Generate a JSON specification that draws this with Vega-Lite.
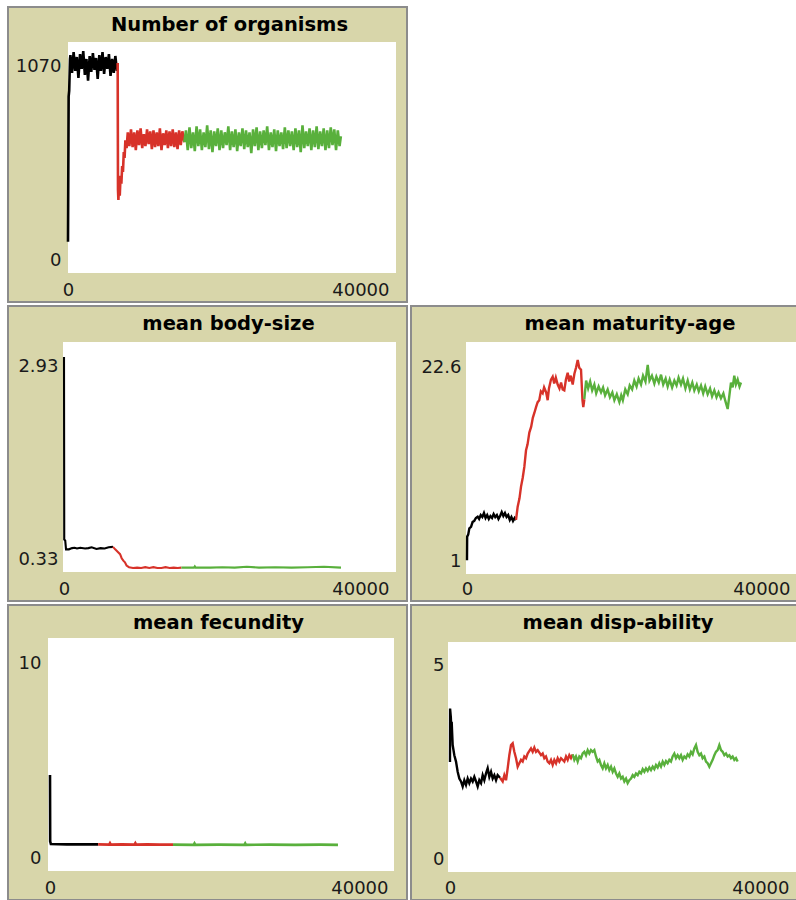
{
  "$schema": "https://vega.github.io/schema/vega-lite/v6.json",
  "background": "white",
  "padding": {"left": 7, "top": 6, "right": 0, "bottom": 0},
  "config": {
    "view": {"fill": "#d8d6aa", "stroke": "#8c8c8c", "strokeWidth": 2},
    "axis": {"labelFont": "DejaVu Sans", "labelFontSize": 18, "labelColor": "#1a1a1a", "domain": false, "ticks": false, "tickSize": 0, "grid": false, "labelFlush": false, "labelOverlap": false, "labelPadding": 2},
    "title": {"font": "DejaVu Sans", "fontSize": 19.5, "fontWeight": "bold", "color": "#000000", "anchor": "middle", "frame": "group", "offset": -28},
    "line": {"strokeWidth": 2.1}
  },
  "datasets": {
    "org": [
      {"t": 0, "v": 138, "p": "a"}, {"t": 80, "v": 870, "p": "a"}, {"t": 150, "v": 900, "p": "a"}, {"t": 250, "v": 1060, "p": "a"},
      {"t": 300, "v": 1080, "p": "a"}, {"t": 500, "v": 990, "p": "a"}, {"t": 700, "v": 1095, "p": "a"}, {"t": 900, "v": 1000, "p": "a"},
      {"t": 1100, "v": 1070, "p": "a"}, {"t": 1300, "v": 965, "p": "a"}, {"t": 1500, "v": 1085, "p": "a"}, {"t": 1700, "v": 1010, "p": "a"},
      {"t": 1900, "v": 1100, "p": "a"}, {"t": 2100, "v": 980, "p": "a"}, {"t": 2300, "v": 1060, "p": "a"}, {"t": 2500, "v": 950, "p": "a"},
      {"t": 2700, "v": 1075, "p": "a"}, {"t": 2900, "v": 995, "p": "a"}, {"t": 3100, "v": 1090, "p": "a"}, {"t": 3300, "v": 1005, "p": "a"},
      {"t": 3500, "v": 1065, "p": "a"}, {"t": 3700, "v": 960, "p": "a"}, {"t": 3900, "v": 1080, "p": "a"}, {"t": 4100, "v": 1000, "p": "a"},
      {"t": 4300, "v": 1095, "p": "a"}, {"t": 4500, "v": 985, "p": "a"}, {"t": 4700, "v": 1070, "p": "a"}, {"t": 4900, "v": 1010, "p": "a"},
      {"t": 5100, "v": 1085, "p": "a"}, {"t": 5300, "v": 975, "p": "a"}, {"t": 5500, "v": 1060, "p": "a"}, {"t": 5700, "v": 990, "p": "a"},
      {"t": 5900, "v": 1075, "p": "a"}, {"t": 6100, "v": 1000, "p": "a"}, {"t": 6190, "v": 1040, "p": "a"},
      {"t": 6190, "v": 1040, "p": "b"}, {"t": 6230, "v": 400, "p": "b"}, {"t": 6280, "v": 348, "p": "b"}, {"t": 6350, "v": 420, "p": "b"},
      {"t": 6450, "v": 370, "p": "b"}, {"t": 6550, "v": 470, "p": "b"}, {"t": 6650, "v": 430, "p": "b"}, {"t": 6750, "v": 520, "p": "b"},
      {"t": 6850, "v": 490, "p": "b"}, {"t": 6950, "v": 590, "p": "b"}, {"t": 7050, "v": 560, "p": "b"}, {"t": 7150, "v": 650, "p": "b"},
      {"t": 7300, "v": 610, "p": "b"}, {"t": 7450, "v": 690, "p": "b"}, {"t": 7650, "v": 620, "p": "b"}, {"t": 7850, "v": 705, "p": "b"},
      {"t": 8050, "v": 615, "p": "b"}, {"t": 8250, "v": 690, "p": "b"}, {"t": 8450, "v": 600, "p": "b"}, {"t": 8650, "v": 700, "p": "b"},
      {"t": 8850, "v": 625, "p": "b"}, {"t": 9050, "v": 710, "p": "b"}, {"t": 9250, "v": 610, "p": "b"}, {"t": 9450, "v": 680, "p": "b"},
      {"t": 9650, "v": 620, "p": "b"}, {"t": 9850, "v": 705, "p": "b"}, {"t": 10050, "v": 630, "p": "b"}, {"t": 10250, "v": 695, "p": "b"},
      {"t": 10450, "v": 605, "p": "b"}, {"t": 10650, "v": 700, "p": "b"}, {"t": 10850, "v": 615, "p": "b"}, {"t": 11050, "v": 690, "p": "b"},
      {"t": 11250, "v": 620, "p": "b"}, {"t": 11450, "v": 710, "p": "b"}, {"t": 11650, "v": 600, "p": "b"}, {"t": 11850, "v": 685, "p": "b"},
      {"t": 12050, "v": 625, "p": "b"}, {"t": 12250, "v": 700, "p": "b"}, {"t": 12450, "v": 610, "p": "b"}, {"t": 12650, "v": 695, "p": "b"},
      {"t": 12850, "v": 620, "p": "b"}, {"t": 13050, "v": 705, "p": "b"}, {"t": 13250, "v": 615, "p": "b"}, {"t": 13450, "v": 690, "p": "b"},
      {"t": 13650, "v": 605, "p": "b"}, {"t": 13850, "v": 700, "p": "b"}, {"t": 14050, "v": 625, "p": "b"}, {"t": 14250, "v": 695, "p": "b"},
      {"t": 14500, "v": 640, "p": "b"},
      {"t": 14500, "v": 640, "p": "c"}, {"t": 14700, "v": 700, "p": "c"}, {"t": 14920, "v": 600, "p": "c"}, {"t": 15140, "v": 715, "p": "c"},
      {"t": 15360, "v": 610, "p": "c"}, {"t": 15580, "v": 690, "p": "c"}, {"t": 15800, "v": 595, "p": "c"}, {"t": 16020, "v": 720, "p": "c"},
      {"t": 16240, "v": 620, "p": "c"}, {"t": 16460, "v": 705, "p": "c"}, {"t": 16680, "v": 600, "p": "c"}, {"t": 16900, "v": 690, "p": "c"},
      {"t": 17120, "v": 615, "p": "c"}, {"t": 17340, "v": 725, "p": "c"}, {"t": 17560, "v": 605, "p": "c"}, {"t": 17780, "v": 700, "p": "c"},
      {"t": 18000, "v": 590, "p": "c"}, {"t": 18220, "v": 695, "p": "c"}, {"t": 18440, "v": 620, "p": "c"}, {"t": 18660, "v": 710, "p": "c"},
      {"t": 18880, "v": 600, "p": "c"}, {"t": 19100, "v": 700, "p": "c"}, {"t": 19320, "v": 610, "p": "c"}, {"t": 19540, "v": 690, "p": "c"},
      {"t": 19760, "v": 625, "p": "c"}, {"t": 19980, "v": 720, "p": "c"}, {"t": 20200, "v": 600, "p": "c"}, {"t": 20420, "v": 695, "p": "c"},
      {"t": 20640, "v": 615, "p": "c"}, {"t": 20860, "v": 705, "p": "c"}, {"t": 21080, "v": 595, "p": "c"}, {"t": 21300, "v": 690, "p": "c"},
      {"t": 21520, "v": 620, "p": "c"}, {"t": 21740, "v": 710, "p": "c"}, {"t": 21960, "v": 605, "p": "c"}, {"t": 22180, "v": 700, "p": "c"},
      {"t": 22400, "v": 615, "p": "c"}, {"t": 22620, "v": 690, "p": "c"}, {"t": 22840, "v": 585, "p": "c"}, {"t": 23060, "v": 705, "p": "c"},
      {"t": 23280, "v": 620, "p": "c"}, {"t": 23500, "v": 715, "p": "c"}, {"t": 23720, "v": 600, "p": "c"}, {"t": 23940, "v": 695, "p": "c"},
      {"t": 24160, "v": 610, "p": "c"}, {"t": 24380, "v": 700, "p": "c"}, {"t": 24600, "v": 625, "p": "c"}, {"t": 24820, "v": 720, "p": "c"},
      {"t": 25040, "v": 600, "p": "c"}, {"t": 25260, "v": 690, "p": "c"}, {"t": 25480, "v": 615, "p": "c"}, {"t": 25700, "v": 705, "p": "c"},
      {"t": 25920, "v": 595, "p": "c"}, {"t": 26140, "v": 700, "p": "c"}, {"t": 26360, "v": 620, "p": "c"}, {"t": 26580, "v": 690, "p": "c"},
      {"t": 26800, "v": 605, "p": "c"}, {"t": 27020, "v": 715, "p": "c"}, {"t": 27240, "v": 610, "p": "c"}, {"t": 27460, "v": 700, "p": "c"},
      {"t": 27680, "v": 620, "p": "c"}, {"t": 27900, "v": 695, "p": "c"}, {"t": 28120, "v": 600, "p": "c"}, {"t": 28340, "v": 710, "p": "c"},
      {"t": 28560, "v": 615, "p": "c"}, {"t": 28780, "v": 700, "p": "c"}, {"t": 29000, "v": 590, "p": "c"}, {"t": 29220, "v": 725, "p": "c"},
      {"t": 29440, "v": 610, "p": "c"}, {"t": 29660, "v": 695, "p": "c"}, {"t": 29880, "v": 620, "p": "c"}, {"t": 30100, "v": 710, "p": "c"},
      {"t": 30320, "v": 600, "p": "c"}, {"t": 30540, "v": 700, "p": "c"}, {"t": 30760, "v": 615, "p": "c"}, {"t": 30980, "v": 720, "p": "c"},
      {"t": 31200, "v": 605, "p": "c"}, {"t": 31420, "v": 695, "p": "c"}, {"t": 31640, "v": 620, "p": "c"}, {"t": 31860, "v": 710, "p": "c"},
      {"t": 32080, "v": 600, "p": "c"}, {"t": 32300, "v": 700, "p": "c"}, {"t": 32520, "v": 610, "p": "c"}, {"t": 32740, "v": 715, "p": "c"},
      {"t": 32960, "v": 625, "p": "c"}, {"t": 33180, "v": 705, "p": "c"}, {"t": 33400, "v": 600, "p": "c"}, {"t": 33620, "v": 700, "p": "c"},
      {"t": 33840, "v": 620, "p": "c"}, {"t": 34000, "v": 670, "p": "c"}
    ],
    "body": [
      {"t": 0, "v": 2.93, "p": "a"}, {"t": 30, "v": 0.68, "p": "a"}, {"t": 150, "v": 0.67, "p": "a"}, {"t": 250, "v": 0.56, "p": "a"},
      {"t": 600, "v": 0.56, "p": "a"}, {"t": 1000, "v": 0.575, "p": "a"}, {"t": 1300, "v": 0.58, "p": "a"}, {"t": 1600, "v": 0.57, "p": "a"},
      {"t": 2000, "v": 0.58, "p": "a"}, {"t": 2600, "v": 0.57, "p": "a"}, {"t": 3000, "v": 0.575, "p": "a"}, {"t": 3400, "v": 0.585, "p": "a"},
      {"t": 4000, "v": 0.565, "p": "a"}, {"t": 4500, "v": 0.575, "p": "a"}, {"t": 5000, "v": 0.57, "p": "a"}, {"t": 5500, "v": 0.585, "p": "a"},
      {"t": 6030, "v": 0.59, "p": "a"},
      {"t": 6030, "v": 0.59, "p": "b"}, {"t": 6300, "v": 0.56, "p": "b"}, {"t": 6600, "v": 0.53, "p": "b"}, {"t": 6900, "v": 0.5, "p": "b"},
      {"t": 7100, "v": 0.45, "p": "b"}, {"t": 7300, "v": 0.42, "p": "b"}, {"t": 7500, "v": 0.4, "p": "b"}, {"t": 7700, "v": 0.36, "p": "b"},
      {"t": 8000, "v": 0.34, "p": "b"}, {"t": 8500, "v": 0.33, "p": "b"}, {"t": 9000, "v": 0.335, "p": "b"}, {"t": 9500, "v": 0.33, "p": "b"},
      {"t": 10000, "v": 0.34, "p": "b"}, {"t": 10500, "v": 0.33, "p": "b"}, {"t": 11000, "v": 0.34, "p": "b"}, {"t": 11500, "v": 0.33, "p": "b"},
      {"t": 12000, "v": 0.33, "p": "b"}, {"t": 12500, "v": 0.34, "p": "b"}, {"t": 13000, "v": 0.33, "p": "b"}, {"t": 13500, "v": 0.335, "p": "b"},
      {"t": 14000, "v": 0.33, "p": "b"}, {"t": 14450, "v": 0.335, "p": "b"},
      {"t": 14450, "v": 0.335, "p": "c"}, {"t": 16000, "v": 0.335, "p": "c"}, {"t": 16100, "v": 0.35, "p": "c"}, {"t": 16200, "v": 0.335, "p": "c"},
      {"t": 18000, "v": 0.335, "p": "c"}, {"t": 19500, "v": 0.34, "p": "c"}, {"t": 21000, "v": 0.335, "p": "c"}, {"t": 22500, "v": 0.345, "p": "c"},
      {"t": 24000, "v": 0.335, "p": "c"}, {"t": 26000, "v": 0.34, "p": "c"}, {"t": 28000, "v": 0.335, "p": "c"}, {"t": 30000, "v": 0.34, "p": "c"},
      {"t": 32000, "v": 0.345, "p": "c"}, {"t": 34090, "v": 0.335, "p": "c"}
    ],
    "mat": [
      {"t": 0, "v": 2.0, "p": "a"}, {"t": 20, "v": 4.4, "p": "a"}, {"t": 150, "v": 4.6, "p": "a"}, {"t": 290, "v": 5.25, "p": "a"},
      {"t": 500, "v": 5.4, "p": "a"}, {"t": 700, "v": 5.9, "p": "a"}, {"t": 900, "v": 6.0, "p": "a"}, {"t": 1100, "v": 6.3, "p": "a"},
      {"t": 1320, "v": 6.43, "p": "a"}, {"t": 1500, "v": 6.2, "p": "a"}, {"t": 1700, "v": 6.6, "p": "a"}, {"t": 1900, "v": 6.4, "p": "a"},
      {"t": 2100, "v": 6.8, "p": "a"}, {"t": 2300, "v": 6.3, "p": "a"}, {"t": 2500, "v": 6.6, "p": "a"}, {"t": 2700, "v": 6.2, "p": "a"},
      {"t": 2900, "v": 6.5, "p": "a"}, {"t": 3100, "v": 6.3, "p": "a"}, {"t": 3300, "v": 6.7, "p": "a"}, {"t": 3500, "v": 6.4, "p": "a"},
      {"t": 3700, "v": 6.6, "p": "a"}, {"t": 3900, "v": 6.2, "p": "a"}, {"t": 4100, "v": 6.5, "p": "a"}, {"t": 4300, "v": 6.9, "p": "a"},
      {"t": 4500, "v": 6.5, "p": "a"}, {"t": 4700, "v": 6.8, "p": "a"}, {"t": 4900, "v": 6.4, "p": "a"}, {"t": 5100, "v": 6.6, "p": "a"},
      {"t": 5300, "v": 6.1, "p": "a"}, {"t": 5500, "v": 6.4, "p": "a"}, {"t": 5700, "v": 6.0, "p": "a"}, {"t": 5900, "v": 6.3, "p": "a"},
      {"t": 6070, "v": 6.1, "p": "a"},
      {"t": 6070, "v": 6.1, "p": "b"}, {"t": 6275, "v": 7.45, "p": "b"}, {"t": 6500, "v": 8.3, "p": "b"}, {"t": 6690, "v": 9.5, "p": "b"},
      {"t": 6900, "v": 10.4, "p": "b"}, {"t": 7100, "v": 11.5, "p": "b"}, {"t": 7310, "v": 13.2, "p": "b"}, {"t": 7500, "v": 13.8, "p": "b"},
      {"t": 7720, "v": 15.0, "p": "b"}, {"t": 7950, "v": 15.6, "p": "b"}, {"t": 8150, "v": 16.5, "p": "b"}, {"t": 8340, "v": 17.0, "p": "b"},
      {"t": 8550, "v": 17.6, "p": "b"}, {"t": 8750, "v": 18.1, "p": "b"}, {"t": 8950, "v": 18.3, "p": "b"}, {"t": 9150, "v": 19.2, "p": "b"},
      {"t": 9370, "v": 19.0, "p": "b"}, {"t": 9550, "v": 19.6, "p": "b"}, {"t": 9800, "v": 19.1, "p": "b"}, {"t": 9990, "v": 18.3, "p": "b"},
      {"t": 10150, "v": 19.5, "p": "b"}, {"t": 10400, "v": 20.4, "p": "b"}, {"t": 10610, "v": 20.7, "p": "b"}, {"t": 10800, "v": 20.0, "p": "b"},
      {"t": 11000, "v": 20.6, "p": "b"}, {"t": 11230, "v": 19.9, "p": "b"}, {"t": 11450, "v": 19.5, "p": "b"}, {"t": 11650, "v": 20.1, "p": "b"},
      {"t": 11850, "v": 19.4, "p": "b"}, {"t": 12050, "v": 19.3, "p": "b"}, {"t": 12250, "v": 20.4, "p": "b"}, {"t": 12470, "v": 21.1, "p": "b"},
      {"t": 12650, "v": 20.2, "p": "b"}, {"t": 12850, "v": 20.8, "p": "b"}, {"t": 13090, "v": 19.9, "p": "b"}, {"t": 13300, "v": 21.0, "p": "b"},
      {"t": 13500, "v": 21.6, "p": "b"}, {"t": 13710, "v": 22.4, "p": "b"}, {"t": 13900, "v": 21.6, "p": "b"}, {"t": 14120, "v": 21.4, "p": "b"},
      {"t": 14300, "v": 18.3, "p": "b"}, {"t": 14400, "v": 17.6, "p": "b"}, {"t": 14530, "v": 18.4, "p": "b"},
      {"t": 14530, "v": 18.4, "p": "c"}, {"t": 14750, "v": 20.3, "p": "c"}, {"t": 15000, "v": 19.5, "p": "c"}, {"t": 15250, "v": 20.2, "p": "c"},
      {"t": 15500, "v": 19.3, "p": "c"}, {"t": 15770, "v": 19.9, "p": "c"}, {"t": 16000, "v": 19.0, "p": "c"}, {"t": 16300, "v": 19.7, "p": "c"},
      {"t": 16600, "v": 19.1, "p": "c"}, {"t": 16850, "v": 19.6, "p": "c"}, {"t": 17100, "v": 18.8, "p": "c"}, {"t": 17420, "v": 19.4, "p": "c"},
      {"t": 17700, "v": 18.6, "p": "c"}, {"t": 18000, "v": 19.1, "p": "c"}, {"t": 18250, "v": 18.3, "p": "c"}, {"t": 18550, "v": 18.9, "p": "c"},
      {"t": 18870, "v": 18.1, "p": "c"}, {"t": 19100, "v": 18.8, "p": "c"}, {"t": 19300, "v": 18.3, "p": "c"}, {"t": 19600, "v": 19.4, "p": "c"},
      {"t": 19900, "v": 18.9, "p": "c"}, {"t": 20150, "v": 19.8, "p": "c"}, {"t": 20450, "v": 19.4, "p": "c"}, {"t": 20720, "v": 20.3, "p": "c"},
      {"t": 21000, "v": 19.7, "p": "c"}, {"t": 21250, "v": 20.5, "p": "c"}, {"t": 21550, "v": 19.9, "p": "c"}, {"t": 21800, "v": 20.8, "p": "c"},
      {"t": 22100, "v": 20.2, "p": "c"}, {"t": 22380, "v": 21.9, "p": "c"}, {"t": 22600, "v": 20.3, "p": "c"}, {"t": 22900, "v": 20.8, "p": "c"},
      {"t": 23200, "v": 20.0, "p": "c"}, {"t": 23450, "v": 20.7, "p": "c"}, {"t": 23750, "v": 20.1, "p": "c"}, {"t": 24030, "v": 20.9, "p": "c"},
      {"t": 24300, "v": 19.9, "p": "c"}, {"t": 24600, "v": 20.5, "p": "c"}, {"t": 24850, "v": 19.7, "p": "c"}, {"t": 25100, "v": 20.4, "p": "c"},
      {"t": 25400, "v": 19.6, "p": "c"}, {"t": 25680, "v": 20.3, "p": "c"}, {"t": 25950, "v": 19.8, "p": "c"}, {"t": 26200, "v": 20.6, "p": "c"},
      {"t": 26500, "v": 19.9, "p": "c"}, {"t": 26750, "v": 20.5, "p": "c"}, {"t": 27050, "v": 19.5, "p": "c"}, {"t": 27330, "v": 20.3, "p": "c"},
      {"t": 27600, "v": 19.4, "p": "c"}, {"t": 27900, "v": 20.1, "p": "c"}, {"t": 28150, "v": 19.3, "p": "c"}, {"t": 28450, "v": 19.9, "p": "c"},
      {"t": 28700, "v": 19.2, "p": "c"}, {"t": 28980, "v": 19.8, "p": "c"}, {"t": 29250, "v": 19.0, "p": "c"}, {"t": 29500, "v": 19.7, "p": "c"},
      {"t": 29800, "v": 18.9, "p": "c"}, {"t": 30100, "v": 19.5, "p": "c"}, {"t": 30350, "v": 18.7, "p": "c"}, {"t": 30630, "v": 19.3, "p": "c"},
      {"t": 30900, "v": 18.6, "p": "c"}, {"t": 31150, "v": 19.1, "p": "c"}, {"t": 31450, "v": 18.5, "p": "c"}, {"t": 31750, "v": 19.0, "p": "c"},
      {"t": 32000, "v": 18.2, "p": "c"}, {"t": 32280, "v": 17.4, "p": "c"}, {"t": 32450, "v": 18.5, "p": "c"}, {"t": 32690, "v": 20.1, "p": "c"},
      {"t": 32900, "v": 19.6, "p": "c"}, {"t": 33100, "v": 20.8, "p": "c"}, {"t": 33300, "v": 19.9, "p": "c"}, {"t": 33520, "v": 20.4, "p": "c"},
      {"t": 33750, "v": 19.7, "p": "c"}, {"t": 33930, "v": 20.1, "p": "c"}
    ],
    "fec": [
      {"t": 0, "v": 4.32, "p": "a"}, {"t": 20, "v": 1.2, "p": "a"}, {"t": 100, "v": 1.08, "p": "a"}, {"t": 1000, "v": 1.07, "p": "a"},
      {"t": 2000, "v": 1.06, "p": "a"}, {"t": 3000, "v": 1.06, "p": "a"}, {"t": 4000, "v": 1.06, "p": "a"}, {"t": 5000, "v": 1.06, "p": "a"},
      {"t": 5700, "v": 1.06, "p": "a"},
      {"t": 5700, "v": 1.06, "p": "b"}, {"t": 7000, "v": 1.05, "p": "b"}, {"t": 7100, "v": 1.12, "p": "b"}, {"t": 7200, "v": 1.05, "p": "b"},
      {"t": 8500, "v": 1.06, "p": "b"}, {"t": 10000, "v": 1.05, "p": "b"}, {"t": 10100, "v": 1.12, "p": "b"}, {"t": 10200, "v": 1.05, "p": "b"},
      {"t": 11500, "v": 1.06, "p": "b"}, {"t": 13000, "v": 1.05, "p": "b"}, {"t": 14560, "v": 1.05, "p": "b"},
      {"t": 14560, "v": 1.05, "p": "c"}, {"t": 17000, "v": 1.04, "p": "c"}, {"t": 17100, "v": 1.11, "p": "c"}, {"t": 17200, "v": 1.04, "p": "c"},
      {"t": 20000, "v": 1.05, "p": "c"}, {"t": 23000, "v": 1.04, "p": "c"}, {"t": 23100, "v": 1.11, "p": "c"}, {"t": 23200, "v": 1.04, "p": "c"},
      {"t": 26000, "v": 1.05, "p": "c"}, {"t": 29000, "v": 1.04, "p": "c"}, {"t": 32000, "v": 1.05, "p": "c"}, {"t": 34080, "v": 1.04, "p": "c"}
    ],
    "disp": [
      {"t": 0, "v": 2.5, "p": "a"}, {"t": 10, "v": 3.76, "p": "a"}, {"t": 100, "v": 3.55, "p": "a"}, {"t": 150, "v": 3.3, "p": "a"},
      {"t": 200, "v": 3.45, "p": "a"}, {"t": 250, "v": 3.2, "p": "a"}, {"t": 315, "v": 2.9, "p": "a"}, {"t": 510, "v": 2.66, "p": "a"},
      {"t": 710, "v": 2.51, "p": "a"}, {"t": 905, "v": 2.27, "p": "a"}, {"t": 1100, "v": 2.11, "p": "a"}, {"t": 1300, "v": 2.04, "p": "a"},
      {"t": 1495, "v": 1.92, "p": "a"}, {"t": 1690, "v": 2.07, "p": "a"}, {"t": 1890, "v": 1.96, "p": "a"}, {"t": 2085, "v": 2.11, "p": "a"},
      {"t": 2280, "v": 2.0, "p": "a"}, {"t": 2480, "v": 2.11, "p": "a"}, {"t": 2675, "v": 2.04, "p": "a"}, {"t": 2870, "v": 2.15, "p": "a"},
      {"t": 3070, "v": 2.04, "p": "a"}, {"t": 3265, "v": 1.92, "p": "a"}, {"t": 3460, "v": 2.07, "p": "a"}, {"t": 3660, "v": 2.0, "p": "a"},
      {"t": 3855, "v": 2.19, "p": "a"}, {"t": 4050, "v": 2.07, "p": "a"}, {"t": 4250, "v": 2.23, "p": "a"}, {"t": 4445, "v": 2.35, "p": "a"},
      {"t": 4640, "v": 2.15, "p": "a"}, {"t": 4840, "v": 2.27, "p": "a"}, {"t": 5035, "v": 2.11, "p": "a"}, {"t": 5230, "v": 2.19, "p": "a"},
      {"t": 5430, "v": 2.07, "p": "a"}, {"t": 5625, "v": 2.19, "p": "a"}, {"t": 5900, "v": 2.13, "p": "a"},
      {"t": 5900, "v": 2.13, "p": "b"}, {"t": 6215, "v": 2.04, "p": "b"}, {"t": 6410, "v": 2.19, "p": "b"}, {"t": 6610, "v": 2.07, "p": "b"},
      {"t": 6805, "v": 2.35, "p": "b"}, {"t": 7000, "v": 2.66, "p": "b"}, {"t": 7200, "v": 2.9, "p": "b"}, {"t": 7395, "v": 2.94, "p": "b"},
      {"t": 7590, "v": 2.74, "p": "b"}, {"t": 7790, "v": 2.59, "p": "b"}, {"t": 7985, "v": 2.39, "p": "b"}, {"t": 8180, "v": 2.47, "p": "b"},
      {"t": 8380, "v": 2.55, "p": "b"}, {"t": 8575, "v": 2.51, "p": "b"}, {"t": 8770, "v": 2.63, "p": "b"}, {"t": 8970, "v": 2.59, "p": "b"},
      {"t": 9165, "v": 2.7, "p": "b"}, {"t": 9555, "v": 2.82, "p": "b"}, {"t": 9755, "v": 2.74, "p": "b"}, {"t": 9950, "v": 2.84, "p": "b"},
      {"t": 10150, "v": 2.74, "p": "b"}, {"t": 10345, "v": 2.78, "p": "b"}, {"t": 10740, "v": 2.66, "p": "b"}, {"t": 10935, "v": 2.7, "p": "b"},
      {"t": 11130, "v": 2.59, "p": "b"}, {"t": 11325, "v": 2.63, "p": "b"}, {"t": 11525, "v": 2.51, "p": "b"}, {"t": 11720, "v": 2.47, "p": "b"},
      {"t": 11915, "v": 2.55, "p": "b"}, {"t": 12115, "v": 2.43, "p": "b"}, {"t": 12310, "v": 2.55, "p": "b"}, {"t": 12510, "v": 2.47, "p": "b"},
      {"t": 12705, "v": 2.59, "p": "b"}, {"t": 12900, "v": 2.51, "p": "b"}, {"t": 13100, "v": 2.59, "p": "b"}, {"t": 13490, "v": 2.51, "p": "b"},
      {"t": 13690, "v": 2.63, "p": "b"}, {"t": 13885, "v": 2.55, "p": "b"}, {"t": 14080, "v": 2.66, "p": "b"}, {"t": 14275, "v": 2.59, "p": "b"},
      {"t": 14475, "v": 2.68, "p": "b"},
      {"t": 14475, "v": 2.68, "p": "c"}, {"t": 14670, "v": 2.55, "p": "c"}, {"t": 14865, "v": 2.63, "p": "c"}, {"t": 15065, "v": 2.51, "p": "c"},
      {"t": 15260, "v": 2.63, "p": "c"}, {"t": 15455, "v": 2.59, "p": "c"}, {"t": 15655, "v": 2.7, "p": "c"}, {"t": 15850, "v": 2.74, "p": "c"},
      {"t": 16045, "v": 2.66, "p": "c"}, {"t": 16245, "v": 2.78, "p": "c"}, {"t": 16440, "v": 2.7, "p": "c"}, {"t": 16635, "v": 2.78, "p": "c"},
      {"t": 16835, "v": 2.74, "p": "c"}, {"t": 17030, "v": 2.78, "p": "c"}, {"t": 17225, "v": 2.63, "p": "c"}, {"t": 17425, "v": 2.51, "p": "c"},
      {"t": 17620, "v": 2.55, "p": "c"}, {"t": 17815, "v": 2.43, "p": "c"}, {"t": 18015, "v": 2.35, "p": "c"}, {"t": 18210, "v": 2.47, "p": "c"},
      {"t": 18405, "v": 2.35, "p": "c"}, {"t": 18605, "v": 2.43, "p": "c"}, {"t": 18800, "v": 2.31, "p": "c"}, {"t": 19000, "v": 2.39, "p": "c"},
      {"t": 19195, "v": 2.27, "p": "c"}, {"t": 19390, "v": 2.35, "p": "c"}, {"t": 19590, "v": 2.23, "p": "c"}, {"t": 19785, "v": 2.15, "p": "c"},
      {"t": 19980, "v": 2.23, "p": "c"}, {"t": 20180, "v": 2.11, "p": "c"}, {"t": 20375, "v": 2.15, "p": "c"}, {"t": 20570, "v": 2.04, "p": "c"},
      {"t": 20770, "v": 2.11, "p": "c"}, {"t": 20965, "v": 2.0, "p": "c"}, {"t": 21160, "v": 2.07, "p": "c"}, {"t": 21360, "v": 2.11, "p": "c"},
      {"t": 21555, "v": 2.19, "p": "c"}, {"t": 21750, "v": 2.15, "p": "c"}, {"t": 21945, "v": 2.23, "p": "c"}, {"t": 22145, "v": 2.19, "p": "c"},
      {"t": 22340, "v": 2.27, "p": "c"}, {"t": 22535, "v": 2.23, "p": "c"}, {"t": 22735, "v": 2.33, "p": "c"}, {"t": 22930, "v": 2.27, "p": "c"},
      {"t": 23125, "v": 2.35, "p": "c"}, {"t": 23325, "v": 2.29, "p": "c"}, {"t": 23520, "v": 2.37, "p": "c"}, {"t": 23715, "v": 2.31, "p": "c"},
      {"t": 23915, "v": 2.39, "p": "c"}, {"t": 24110, "v": 2.33, "p": "c"}, {"t": 24305, "v": 2.43, "p": "c"}, {"t": 24505, "v": 2.37, "p": "c"},
      {"t": 24700, "v": 2.47, "p": "c"}, {"t": 24895, "v": 2.39, "p": "c"}, {"t": 25095, "v": 2.51, "p": "c"}, {"t": 25290, "v": 2.43, "p": "c"},
      {"t": 25485, "v": 2.52, "p": "c"}, {"t": 25680, "v": 2.47, "p": "c"}, {"t": 25880, "v": 2.55, "p": "c"}, {"t": 26075, "v": 2.51, "p": "c"},
      {"t": 26270, "v": 2.63, "p": "c"}, {"t": 26470, "v": 2.7, "p": "c"}, {"t": 26665, "v": 2.59, "p": "c"}, {"t": 26860, "v": 2.66, "p": "c"},
      {"t": 27060, "v": 2.59, "p": "c"}, {"t": 27255, "v": 2.66, "p": "c"}, {"t": 27450, "v": 2.55, "p": "c"}, {"t": 27650, "v": 2.63, "p": "c"},
      {"t": 27845, "v": 2.59, "p": "c"}, {"t": 28040, "v": 2.68, "p": "c"}, {"t": 28240, "v": 2.63, "p": "c"}, {"t": 28435, "v": 2.74, "p": "c"},
      {"t": 28630, "v": 2.68, "p": "c"}, {"t": 28830, "v": 2.82, "p": "c"}, {"t": 29025, "v": 2.9, "p": "c"}, {"t": 29220, "v": 2.74, "p": "c"},
      {"t": 29420, "v": 2.66, "p": "c"}, {"t": 29615, "v": 2.7, "p": "c"}, {"t": 29810, "v": 2.59, "p": "c"}, {"t": 30010, "v": 2.63, "p": "c"},
      {"t": 30205, "v": 2.51, "p": "c"}, {"t": 30400, "v": 2.47, "p": "c"}, {"t": 30600, "v": 2.39, "p": "c"}, {"t": 30795, "v": 2.47, "p": "c"},
      {"t": 30990, "v": 2.55, "p": "c"}, {"t": 31190, "v": 2.66, "p": "c"}, {"t": 31385, "v": 2.74, "p": "c"}, {"t": 31580, "v": 2.78, "p": "c"},
      {"t": 31780, "v": 2.9, "p": "c"}, {"t": 31975, "v": 2.78, "p": "c"}, {"t": 32170, "v": 2.74, "p": "c"}, {"t": 32370, "v": 2.66, "p": "c"},
      {"t": 32565, "v": 2.7, "p": "c"}, {"t": 32760, "v": 2.63, "p": "c"}, {"t": 32960, "v": 2.66, "p": "c"}, {"t": 33155, "v": 2.59, "p": "c"},
      {"t": 33350, "v": 2.63, "p": "c"}, {"t": 33550, "v": 2.55, "p": "c"}, {"t": 33745, "v": 2.59, "p": "c"}, {"t": 33940, "v": 2.51, "p": "c"}
    ]
  },
  "columns": 2,
  "spacing": 4,
  "bounds": "flush",
  "concat": [
    {
      "width": 399, "height": 295,
      "title": {"text": "Number of organisms", "dx": 22},
      "layer": [
        {"data": {"values": [{}]}, "mark": {"type": "rect", "color": "white"},
         "encoding": {
           "x": {"datum": 0, "type": "quantitative", "scale": {"domain": [0, 40000], "range": [60, 381], "nice": false, "zero": false},
                 "axis": {"values": [0, 40000], "format": ".12~g", "title": null, "offset": -23, "labelBaseline": "top", "labelAlign": {"condition": {"test": "datum.value == 0", "value": "center"}, "value": "right"}}},
           "x2": {"datum": 40872},
           "y": {"datum": -20, "type": "quantitative", "scale": {"domain": [0, 1070], "range": [262, 50], "nice": false, "zero": false},
                 "axis": {"values": [0, 1070], "format": ".12~g", "title": null, "offset": -55, "labelAlign": "right", "labelBaseline": {"condition": {"test": "datum.value == 0", "value": "bottom"}, "value": "top"}}},
           "y2": {"datum": 1146}
         }},
        {"data": {"name": "org"}, "mark": {"type": "line", "strokeWidth": 2.6},
         "encoding": {
           "x": {"field": "t", "type": "quantitative", "scale": {"domain": [0, 40000], "range": [60, 381], "nice": false, "zero": false},
                 "axis": {"values": [0, 40000], "format": ".12~g", "title": null, "offset": -23, "labelBaseline": "top", "labelAlign": {"condition": {"test": "datum.value == 0", "value": "center"}, "value": "right"}}},
           "y": {"field": "v", "type": "quantitative", "scale": {"domain": [0, 1070], "range": [262, 50], "nice": false, "zero": false},
                 "axis": {"values": [0, 1070], "format": ".12~g", "title": null, "offset": -55, "labelAlign": "right", "labelBaseline": {"condition": {"test": "datum.value == 0", "value": "bottom"}, "value": "top"}}},
           "color": {"field": "p", "type": "nominal", "scale": {"domain": ["a", "b", "c"], "range": ["#000000", "#d73229", "#59b03c"]}, "legend": null}
         }}
      ]
    },
    {
      "width": 396, "height": 295,
      "data": {"values": []},
      "mark": "point",
      "view": {"fill": "white", "stroke": "white", "strokeWidth": 0}
    },
    {
      "width": 399, "height": 295,
      "title": {"text": "mean body-size", "dx": 21},
      "layer": [
        {"data": {"values": [{}]}, "mark": {"type": "rect", "color": "white"},
         "encoding": {
           "x": {"datum": -123, "type": "quantitative", "scale": {"domain": [0, 40000], "range": [56, 381], "nice": false, "zero": false},
                 "axis": {"values": [0, 40000], "format": ".12~g", "title": null, "offset": -23, "labelBaseline": "top", "labelAlign": {"condition": {"test": "datum.value == 0", "value": "center"}, "value": "right"}}},
           "x2": {"datum": 40862},
           "y": {"datum": 0.281, "type": "quantitative", "scale": {"domain": [0.33, 2.93], "range": [262, 51], "nice": false, "zero": false},
                 "axis": {"values": [0.33, 2.93], "format": ".12~g", "title": null, "offset": -52, "labelAlign": "right", "labelBaseline": {"condition": {"test": "datum.value < 1", "value": "bottom"}, "value": "top"}}},
           "y2": {"datum": 3.115}
         }},
        {"data": {"name": "body"}, "mark": {"type": "line"},
         "encoding": {
           "x": {"field": "t", "type": "quantitative", "scale": {"domain": [0, 40000], "range": [56, 381], "nice": false, "zero": false},
                 "axis": {"values": [0, 40000], "format": ".12~g", "title": null, "offset": -23, "labelBaseline": "top", "labelAlign": {"condition": {"test": "datum.value == 0", "value": "center"}, "value": "right"}}},
           "y": {"field": "v", "type": "quantitative", "scale": {"domain": [0.33, 2.93], "range": [262, 51], "nice": false, "zero": false},
                 "axis": {"values": [0.33, 2.93], "format": ".12~g", "title": null, "offset": -52, "labelAlign": "right", "labelBaseline": {"condition": {"test": "datum.value < 1", "value": "bottom"}, "value": "top"}}},
           "color": {"field": "p", "type": "nominal", "scale": {"domain": ["a", "b", "c"], "range": ["#000000", "#d73229", "#59b03c"]}, "legend": null}
         }}
      ]
    },
    {
      "width": 396, "height": 295,
      "title": {"text": "mean maturity-age", "dx": 21},
      "layer": [
        {"data": {"values": [{}]}, "mark": {"type": "rect", "color": "white"},
         "encoding": {
           "x": {"datum": -124, "type": "quantitative", "scale": {"domain": [0, 40000], "range": [56, 379], "nice": false, "zero": false},
                 "axis": {"values": [0, 40000], "format": ".12~g", "title": null, "offset": -23, "labelBaseline": "top", "labelAlign": {"condition": {"test": "datum.value == 0", "value": "center"}, "value": "right"}}},
           "x2": {"datum": 40743},
           "y": {"datum": 0.59, "type": "quantitative", "scale": {"domain": [1, 22.6], "range": [264, 52], "nice": false, "zero": false},
                 "axis": {"values": [1, 22.6], "format": ".12~g", "title": null, "offset": -52, "labelAlign": "right", "labelBaseline": {"condition": {"test": "datum.value < 2", "value": "bottom"}, "value": "top"}}},
           "y2": {"datum": 24.23}
         }},
        {"data": {"name": "mat"}, "mark": {"type": "line", "strokeWidth": 2.4},
         "encoding": {
           "x": {"field": "t", "type": "quantitative", "scale": {"domain": [0, 40000], "range": [56, 379], "nice": false, "zero": false},
                 "axis": {"values": [0, 40000], "format": ".12~g", "title": null, "offset": -23, "labelBaseline": "top", "labelAlign": {"condition": {"test": "datum.value == 0", "value": "center"}, "value": "right"}}},
           "y": {"field": "v", "type": "quantitative", "scale": {"domain": [1, 22.6], "range": [264, 52], "nice": false, "zero": false},
                 "axis": {"values": [1, 22.6], "format": ".12~g", "title": null, "offset": -52, "labelAlign": "right", "labelBaseline": {"condition": {"test": "datum.value < 2", "value": "bottom"}, "value": "top"}}},
           "color": {"field": "p", "type": "nominal", "scale": {"domain": ["a", "b", "c"], "range": ["#000000", "#d73229", "#59b03c"]}, "legend": null}
         }}
      ]
    },
    {
      "width": 399, "height": 295,
      "title": {"text": "mean fecundity", "dx": 11},
      "layer": [
        {"data": {"values": [{}]}, "mark": {"type": "rect", "color": "white"},
         "encoding": {
           "x": {"datum": -237, "type": "quantitative", "scale": {"domain": [0, 40000], "range": [42, 380], "nice": false, "zero": false},
                 "axis": {"values": [0, 40000], "format": ".12~g", "title": null, "offset": -23, "labelBaseline": "top", "labelAlign": {"condition": {"test": "datum.value == 0", "value": "center"}, "value": "right"}}},
           "x2": {"datum": 40710},
           "y": {"datum": -0.19, "type": "quantitative", "scale": {"domain": [0, 10], "range": [262, 49], "nice": false, "zero": false},
                 "axis": {"values": [0, 10], "format": ".12~g", "title": null, "offset": -35, "labelAlign": "right", "labelBaseline": {"condition": {"test": "datum.value == 0", "value": "bottom"}, "value": "top"}}},
           "y2": {"datum": 10.75}
         }},
        {"data": {"name": "fec"}, "mark": {"type": "line", "strokeWidth": 2.6},
         "encoding": {
           "x": {"field": "t", "type": "quantitative", "scale": {"domain": [0, 40000], "range": [42, 380], "nice": false, "zero": false},
                 "axis": {"values": [0, 40000], "format": ".12~g", "title": null, "offset": -23, "labelBaseline": "top", "labelAlign": {"condition": {"test": "datum.value == 0", "value": "center"}, "value": "right"}}},
           "y": {"field": "v", "type": "quantitative", "scale": {"domain": [0, 10], "range": [262, 49], "nice": false, "zero": false},
                 "axis": {"values": [0, 10], "format": ".12~g", "title": null, "offset": -35, "labelAlign": "right", "labelBaseline": {"condition": {"test": "datum.value == 0", "value": "bottom"}, "value": "top"}}},
           "color": {"field": "p", "type": "nominal", "scale": {"domain": ["a", "b", "c"], "range": ["#000000", "#d73229", "#59b03c"]}, "legend": null}
         }}
      ]
    },
    {
      "width": 396, "height": 295,
      "title": {"text": "mean disp-ability", "dx": 9},
      "layer": [
        {"data": {"values": [{}]}, "mark": {"type": "rect", "color": "white"},
         "encoding": {
           "x": {"datum": -236, "type": "quantitative", "scale": {"domain": [0, 40000], "range": [39, 378], "nice": false, "zero": false},
                 "axis": {"values": [0, 40000], "format": ".12~g", "title": null, "offset": -23, "labelBaseline": "top", "labelAlign": {"condition": {"test": "datum.value == 0", "value": "center"}, "value": "right"}}},
           "x2": {"datum": 40826},
           "y": {"datum": -0.094, "type": "quantitative", "scale": {"domain": [0, 5], "range": [263, 51], "nice": false, "zero": false},
                 "axis": {"values": [0, 5], "format": ".12~g", "title": null, "offset": -35, "labelAlign": "right", "labelBaseline": {"condition": {"test": "datum.value == 0", "value": "bottom"}, "value": "top"}}},
           "y2": {"datum": 5.33}
         }},
        {"data": {"name": "disp"}, "mark": {"type": "line", "strokeWidth": 2.4},
         "encoding": {
           "x": {"field": "t", "type": "quantitative", "scale": {"domain": [0, 40000], "range": [39, 378], "nice": false, "zero": false},
                 "axis": {"values": [0, 40000], "format": ".12~g", "title": null, "offset": -23, "labelBaseline": "top", "labelAlign": {"condition": {"test": "datum.value == 0", "value": "center"}, "value": "right"}}},
           "y": {"field": "v", "type": "quantitative", "scale": {"domain": [0, 5], "range": [263, 51], "nice": false, "zero": false},
                 "axis": {"values": [0, 5], "format": ".12~g", "title": null, "offset": -35, "labelAlign": "right", "labelBaseline": {"condition": {"test": "datum.value == 0", "value": "bottom"}, "value": "top"}}},
           "color": {"field": "p", "type": "nominal", "scale": {"domain": ["a", "b", "c"], "range": ["#000000", "#d73229", "#59b03c"]}, "legend": null}
         }}
      ]
    }
  ]
}
